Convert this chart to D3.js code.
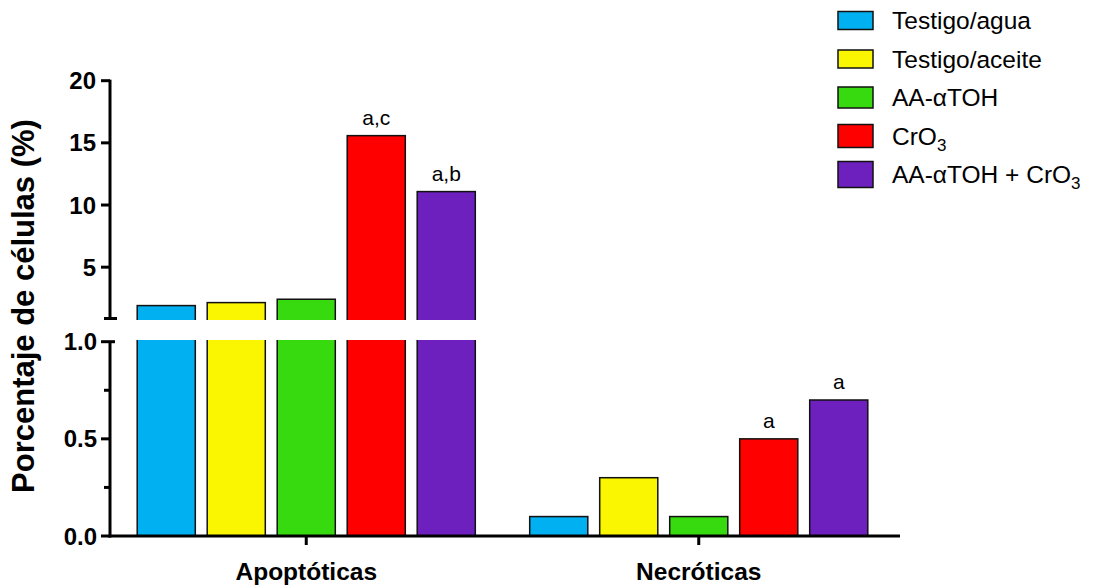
<!DOCTYPE html>
<html>
<head>
<meta charset="utf-8">
<script src="https://cdn.jsdelivr.net/npm/d3@7"></script>
<style>
  html, body { margin: 0; padding: 0; background: #fff; }
  svg { display: block; font-family: "Liberation Sans", Arial, Helvetica, sans-serif; }
</style>
</head>
<body>
<svg id="chart" width="1094" height="585"></svg>
<script>
// ---- data ----
const categories = ["Apoptóticas", "Necróticas"];
const seriesNames = ["Testigo/agua", "Testigo/aceite", "AA-αTOH", "CrO3", "AA-αTOH + CrO3"];
const seriesColors = ["#00B0F0", "#FAF500", "#36DA0E", "#FF0000", "#6E20BF"];
const valuesApoptoticas = [1.91, 2.15, 2.42, 15.58, 11.08];
const valuesNecroticas = [0.10, 0.30, 0.10, 0.50, 0.70];
const labelsApoptoticas = ["", "", "", "a,c", "a,b"];
const labelsNecroticas = ["", "", "", "a", "a"];
const upperTicks = [5, 10, 15, 20];
const lowerTicks = [0, 0.5, 1.0];
const lowerMinorTicks = [0.25, 0.75];

const groupValues = [valuesApoptoticas, valuesNecroticas];
const groupLabels = [labelsApoptoticas, labelsNecroticas];

const svg = d3.select("#chart");

// ---- scales ----
const axisX = 110, axisRight = 900;
const x0 = d3.scaleBand().domain(categories).range([axisX, 895]).padding(0);
const x1 = d3.scaleBand().domain(d3.range(seriesNames.length))
  .range([-175, 175]).paddingInner(0.17).paddingOuter(0.085);

const yUp = d3.scaleLinear().domain([1, 20]).range([316.9, 80.7]);
const yLow = d3.scaleLinear().domain([0, 1]).range([536, 341.7]);
const cutTop = 320, cutBottom = 340;

// clip paths
const defs = svg.append("defs");
defs.append("clipPath").attr("id", "clipUp").append("rect")
  .attr("x", 0).attr("y", 0).attr("width", 1094).attr("height", cutTop);
defs.append("clipPath").attr("id", "clipLow").append("rect")
  .attr("x", 0).attr("y", cutBottom).attr("width", 1094).attr("height", 585 - cutBottom);

// ---- bars ----
const barData = [];
categories.forEach((c, gi) => {
  groupValues[gi].forEach((v, si) => {
    barData.push({ cat: c, si, v, label: groupLabels[gi][si] });
  });
});

const barX = d => x0(d.cat) + x0.bandwidth() / 2 + x1(d.si);

const upG = svg.append("g").attr("clip-path", "url(#clipUp)");
upG.selectAll("rect").data(barData.filter(d => d.v > 1)).join("rect")
  .attr("x", barX).attr("width", x1.bandwidth())
  .attr("y", d => yUp(d.v)).attr("height", d => yUp(0.5) - yUp(d.v))
  .attr("fill", d => seriesColors[d.si]).attr("stroke", "#111").attr("stroke-width", 1.5);

const lowG = svg.append("g").attr("clip-path", "url(#clipLow)");
lowG.selectAll("rect").data(barData).join("rect")
  .attr("x", barX).attr("width", x1.bandwidth())
  .attr("y", d => yLow(Math.min(d.v, 1.05))).attr("height", d => yLow(0) - yLow(Math.min(d.v, 1.05)))
  .attr("fill", d => seriesColors[d.si]).attr("stroke", "#111").attr("stroke-width", 1.5);

// annotations
svg.append("g").selectAll("text").data(barData.filter(d => d.label)).join("text")
  .attr("x", d => barX(d) + x1.bandwidth() / 2)
  .attr("y", d => (d.v > 1 ? yUp(d.v) : yLow(d.v)) - 11)
  .attr("text-anchor", "middle")
  .attr("font-size", 21)
  .attr("fill", "#000")
  .text(d => d.label);

// ---- axes ----
const ax = svg.append("g").attr("stroke", "#000").attr("stroke-width", 3).attr("fill", "none");
// y upper segment
ax.append("line").attr("x1", axisX).attr("x2", axisX).attr("y1", yUp(20) - 1).attr("y2", 318.5);
// y lower segment
ax.append("line").attr("x1", axisX).attr("x2", axisX).attr("y1", 341.5).attr("y2", yLow(0) + 1.5);
// break ticks
ax.append("line").attr("x1", 104).attr("x2", 117).attr("y1", 318.5).attr("y2", 318.5);
ax.append("line").attr("x1", 101).attr("x2", 115).attr("y1", yLow(1)).attr("y2", yLow(1));
// x axis
ax.append("line").attr("x1", axisX - 1.5).attr("x2", axisRight).attr("y1", yLow(0)).attr("y2", yLow(0));

// y ticks
upperTicks.forEach(t => {
  ax.append("line").attr("x1", 101).attr("x2", axisX).attr("y1", yUp(t)).attr("y2", yUp(t));
});
lowerTicks.filter(t => t < 1).forEach(t => {
  ax.append("line").attr("x1", 101).attr("x2", axisX).attr("y1", yLow(t)).attr("y2", yLow(t));
});
lowerMinorTicks.forEach(t => {
  ax.append("line").attr("x1", 104).attr("x2", axisX).attr("y1", yLow(t)).attr("y2", yLow(t));
});
// x ticks
categories.forEach(c => {
  const cx = x0(c) + x0.bandwidth() / 2;
  ax.append("line").attr("x1", cx).attr("x2", cx).attr("y1", yLow(0)).attr("y2", yLow(0) + 9);
});

// tick labels
const tl = svg.append("g").attr("font-size", 24).attr("font-weight", "bold").attr("text-anchor", "end").attr("fill", "#000");
upperTicks.forEach(t => {
  tl.append("text").attr("x", 96).attr("y", yUp(t)).attr("dy", "0.36em").text(d3.format("d")(t));
});
lowerTicks.forEach(t => {
  tl.append("text").attr("x", 97).attr("y", yLow(t)).attr("dy", "0.36em").text(d3.format(".1f")(t));
});

// category labels
svg.append("g").selectAll("text").data(categories).join("text")
  .attr("x", c => x0(c) + x0.bandwidth() / 2)
  .attr("y", 580)
  .attr("text-anchor", "middle")
  .attr("font-size", 24.5).attr("font-weight", "bold")
  .text(c => c);

// y title
svg.append("text")
  .attr("transform", "translate(34,306) rotate(-90)")
  .attr("text-anchor", "middle")
  .attr("font-size", 31).attr("font-weight", "bold")
  .text("Porcentaje de células (%)");

// ---- legend ----
const swatchH = [18, 18, 21, 23, 26];
const lg = svg.append("g");
seriesNames.forEach((name, i) => {
  const cy = 20.5 + i * 38.5;
  lg.append("rect").attr("x", 838).attr("y", cy - swatchH[i] / 2)
    .attr("width", 35).attr("height", swatchH[i])
    .attr("fill", seriesColors[i]).attr("stroke", "#111").attr("stroke-width", 1.5);
  const t = lg.append("text").attr("x", 892).attr("y", cy + 8.5).attr("font-size", 24.5).attr("fill", "#000");
  const m = name.match(/^(.*CrO)3$/);
  if (m) {
    t.append("tspan").text(m[1]);
    t.append("tspan").attr("font-size", 17).attr("dy", 6).text("3");
  } else {
    t.text(name);
  }
});
</script>
</body>
</html>
